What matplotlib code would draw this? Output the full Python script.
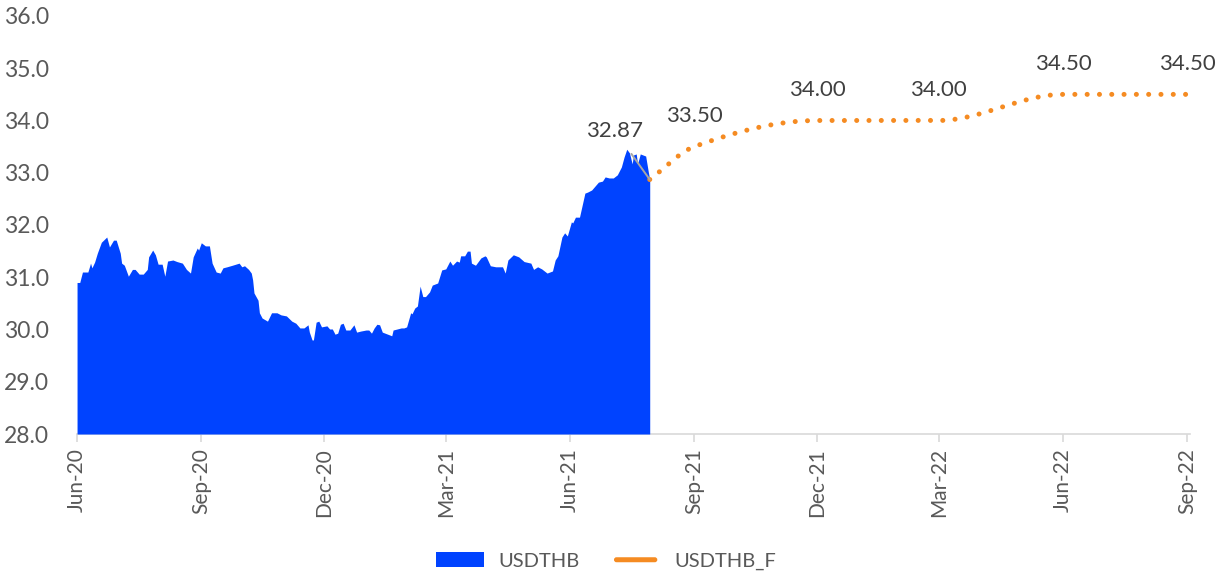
import numpy as np
import pandas as pd
import matplotlib
matplotlib.use("Agg")
import matplotlib.pyplot as plt
import matplotlib.dates as mdates
from matplotlib.patches import Patch, FancyBboxPatch
from matplotlib.legend_handler import HandlerPatch

plt.rcParams['font.family'] = ['Lato', 'DejaVu Sans']

# USDTHB spot history (daily close, thinned)
spot_dates = [
    "2020-06-01", "2020-06-03", "2020-06-05", "2020-06-09", "2020-06-11", "2020-06-12",
    "2020-06-14", "2020-06-16", "2020-06-19", "2020-06-23", "2020-06-25", "2020-06-28",
    "2020-06-30", "2020-07-03", "2020-07-04", "2020-07-06", "2020-07-09", "2020-07-12",
    "2020-07-14", "2020-07-17", "2020-07-20", "2020-07-23", "2020-07-24", "2020-07-27",
    "2020-07-29", "2020-07-31", "2020-08-03", "2020-08-05", "2020-08-07", "2020-08-11",
    "2020-08-14", "2020-08-18", "2020-08-21", "2020-08-24", "2020-08-26", "2020-08-29",
    "2020-08-30", "2020-09-01", "2020-09-04", "2020-09-07", "2020-09-09", "2020-09-12",
    "2020-09-15", "2020-09-17", "2020-09-20", "2020-09-24", "2020-09-29", "2020-10-01",
    "2020-10-03", "2020-10-06", "2020-10-08", "2020-10-09", "2020-10-10", "2020-10-13",
    "2020-10-14", "2020-10-16", "2020-10-20", "2020-10-23", "2020-10-26", "2020-10-27",
    "2020-10-30", "2020-11-03", "2020-11-07", "2020-11-10", "2020-11-13", "2020-11-16",
    "2020-11-19", "2020-11-20", "2020-11-22", "2020-11-23", "2020-11-25", "2020-11-27",
    "2020-11-29", "2020-12-03", "2020-12-05", "2020-12-07", "2020-12-09", "2020-12-11",
    "2020-12-13", "2020-12-15", "2020-12-17", "2020-12-20", "2020-12-23", "2020-12-25",
    "2020-12-28", "2021-01-01", "2021-01-03", "2021-01-05", "2021-01-07", "2021-01-09",
    "2021-01-11", "2021-01-13", "2021-01-17", "2021-01-20", "2021-01-21", "2021-01-24",
    "2021-01-27", "2021-01-29", "2021-01-31", "2021-02-03", "2021-02-04", "2021-02-06",
    "2021-02-08", "2021-02-10", "2021-02-12", "2021-02-14", "2021-02-17", "2021-02-19",
    "2021-02-23", "2021-02-26", "2021-03-01", "2021-03-04", "2021-03-06", "2021-03-09",
    "2021-03-11", "2021-03-12", "2021-03-15", "2021-03-17", "2021-03-19", "2021-03-20",
    "2021-03-23", "2021-03-27", "2021-03-30", "2021-03-31", "2021-04-03", "2021-04-07",
    "2021-04-09", "2021-04-12", "2021-04-14", "2021-04-16", "2021-04-20", "2021-04-24",
    "2021-04-28", "2021-05-03", "2021-05-05", "2021-05-08", "2021-05-11", "2021-05-15",
    "2021-05-19", "2021-05-21", "2021-05-23", "2021-05-26", "2021-05-28", "2021-05-30",
    "2021-06-02", "2021-06-03", "2021-06-05", "2021-06-08", "2021-06-10", "2021-06-12",
    "2021-06-14", "2021-06-17", "2021-06-19", "2021-06-22", "2021-06-25", "2021-06-27",
    "2021-06-30", "2021-07-03", "2021-07-06", "2021-07-09", "2021-07-11", "2021-07-13",
    "2021-07-15", "2021-07-17", "2021-07-18", "2021-07-20", "2021-07-21", "2021-07-23",
    "2021-07-25", "2021-07-27", "2021-07-29", "2021-07-30",
]
spot_values = [
    30.90, 30.90, 31.10, 31.10, 31.27, 31.18,
    31.29, 31.46, 31.67, 31.77, 31.58, 31.71,
    31.71, 31.46, 31.27, 31.23, 31.02, 31.15,
    31.15, 31.06, 31.06, 31.15, 31.39, 31.52,
    31.43, 31.25, 31.25, 31.02, 31.31, 31.33,
    31.30, 31.27, 31.15, 31.08, 31.39, 31.56,
    31.52, 31.66, 31.60, 31.60, 31.27, 31.10,
    31.08, 31.18, 31.20, 31.23, 31.27, 31.20,
    31.22, 31.15, 31.08, 30.95, 30.70, 30.56,
    30.32, 30.22, 30.16, 30.32, 30.32, 30.32,
    30.28, 30.26, 30.16, 30.12, 30.03, 30.03,
    30.09, 29.95, 29.80, 29.80, 30.14, 30.16,
    30.05, 30.07, 30.01, 30.01, 29.91, 29.93,
    30.10, 30.12, 29.99, 29.99, 30.09, 29.95,
    29.97, 29.99, 29.99, 29.93, 30.03, 30.10,
    30.09, 29.95, 29.91, 29.88, 29.99, 30.01,
    30.03, 30.03, 30.05, 30.32, 30.30, 30.41,
    30.45, 30.83, 30.63, 30.63, 30.72, 30.85,
    30.89, 31.14, 31.16, 31.31, 31.23, 31.31,
    31.29, 31.41, 31.41, 31.50, 31.50, 31.27,
    31.23, 31.37, 31.41, 31.39, 31.22, 31.20,
    31.20, 31.20, 31.08, 31.33, 31.43, 31.39,
    31.30, 31.27, 31.15, 31.20, 31.16, 31.08,
    31.12, 31.33, 31.41, 31.77, 31.85, 31.79,
    32.06, 32.04, 32.15, 32.15, 32.38, 32.61,
    32.63, 32.67, 32.73, 32.82, 32.84, 32.92,
    32.90, 32.90, 32.96, 33.11, 33.30, 33.45,
    33.38, 33.17, 33.34, 33.36, 33.17, 33.36,
    33.34, 33.32, 33.01, 32.87,
]

# quarterly forecast path
fc_dates = ["2021-07-30", "2021-09-01", "2021-12-01", "2022-03-01", "2022-06-01", "2022-09-01"]
fc_values = [32.87, 33.50, 34.00, 34.00, 34.50, 34.50]

tick_dates = ["2020-06-01", "2020-09-01", "2020-12-01", "2021-03-01", "2021-06-01",
              "2021-09-01", "2021-12-01", "2022-03-01", "2022-06-01", "2022-09-01"]

BLUE = '#0043FF'
ORANGE = '#F58B22'
TEXT = '#404040'
GREY = '#595959'


def smooth_path(x, y, n=60):
    # monotone cubic (Fritsch-Carlson) so flat stretches stay flat
    x = np.asarray(x, float)
    y = np.asarray(y, float)
    h = np.diff(x)
    d = np.diff(y) / h
    m = np.zeros_like(y)
    m[0], m[-1] = d[0], d[-1]
    for i in range(1, len(y) - 1):
        if d[i - 1] * d[i] > 0:
            w1 = 2 * h[i] + h[i - 1]
            w2 = h[i] + 2 * h[i - 1]
            m[i] = (w1 + w2) / (w1 / d[i - 1] + w2 / d[i])
    xs, ys = [], []
    for i in range(len(h)):
        t = np.linspace(0, 1, n, endpoint=(i == len(h) - 1))
        h00 = 2 * t ** 3 - 3 * t ** 2 + 1
        h10 = t ** 3 - 2 * t ** 2 + t
        h01 = -2 * t ** 3 + 3 * t ** 2
        h11 = t ** 3 - t ** 2
        xs.append(x[i] + t * h[i])
        ys.append(h00 * y[i] + h10 * h[i] * m[i] + h01 * y[i + 1] + h11 * h[i] * m[i + 1])
    return np.concatenate(xs), np.concatenate(ys)


def rounded_bar(legend, orig_handle, xdescent, ydescent, width, height, fontsize):
    # thick line with round ends for the forecast legend entry
    bar_h = 3.6
    y0 = -ydescent + (height - bar_h) / 2
    return FancyBboxPatch((-xdescent + bar_h / 2, y0), width - bar_h, bar_h,
                          boxstyle=f"round,pad=0,rounding_size={bar_h / 2}")


spot_x = mdates.date2num(pd.to_datetime(spot_dates))
fc_x = mdates.date2num(pd.to_datetime(fc_dates))
ticks_x = mdates.date2num(pd.to_datetime(tick_dates))

fig = plt.figure(figsize=(12.21, 5.75), dpi=100)
ax = fig.add_axes([0.0631, 0.2452, 0.9115, 0.727])

ax.fill_between(spot_x, 28, spot_values, color=BLUE, linewidth=0, zorder=2)

sx, sy = smooth_path(fc_x, fc_values)
ax.plot(sx, sy, color=ORANGE, linewidth=3.6, linestyle=(0, (0.01, 2.45)),
        dash_capstyle='round', zorder=3)

# data labels on the forecast points
for i, (xv, yv) in enumerate(zip(fc_x, fc_values)):
    if i == 0:
        ax.annotate(f"{yv:.2f}", xy=(xv, yv), xytext=(-25, 35), textcoords='offset points',
                    ha='center', va='center', fontsize=16, color=TEXT, zorder=4,
                    arrowprops=dict(arrowstyle='-', color='#A6A6A6', lw=1.4,
                                    shrinkA=9, shrinkB=0))
    else:
        ax.annotate(f"{yv:.2f}", xy=(xv, yv), xytext=(0, 22), textcoords='offset points',
                    ha='center', va='center', fontsize=16, color=TEXT)

ax.set_ylim(28, 36)
ax.set_yticks(np.arange(28, 36.1, 1))
ax.yaxis.set_major_formatter(plt.FuncFormatter(lambda v, p: f"{v:.1f}"))
ax.set_xlim(ticks_x[0], ticks_x[-1] + 2)
ax.set_xticks(ticks_x)
ax.xaxis.set_major_formatter(mdates.DateFormatter('%b-%y'))

for side in ('top', 'right', 'left'):
    ax.spines[side].set_visible(False)
ax.spines['bottom'].set_color('#D9D9D9')
ax.spines['bottom'].set_linewidth(1.2)
ax.spines['bottom'].set_zorder(1)

ax.tick_params(axis='y', length=0, pad=20, labelsize=16.5, labelcolor=GREY)
ax.tick_params(axis='x', length=6, width=1.2, color='#D9D9D9', pad=4,
               labelsize=15, labelcolor=GREY, labelrotation=90)

area_handle = Patch(facecolor=BLUE, edgecolor='none', label='USDTHB')
fc_handle = Patch(facecolor=ORANGE, edgecolor='none', label='USDTHB_F')
fig.legend(handles=[area_handle, fc_handle], loc='center', bbox_to_anchor=(0.496, 0.024),
           ncol=2, frameon=False, fontsize=14.5, labelcolor=GREY, handlelength=2.4,
           handleheight=0.75, columnspacing=1.6, handletextpad=0.7,
           handler_map={fc_handle: HandlerPatch(patch_func=rounded_bar)})

fig.savefig('out.png', dpi=100)
